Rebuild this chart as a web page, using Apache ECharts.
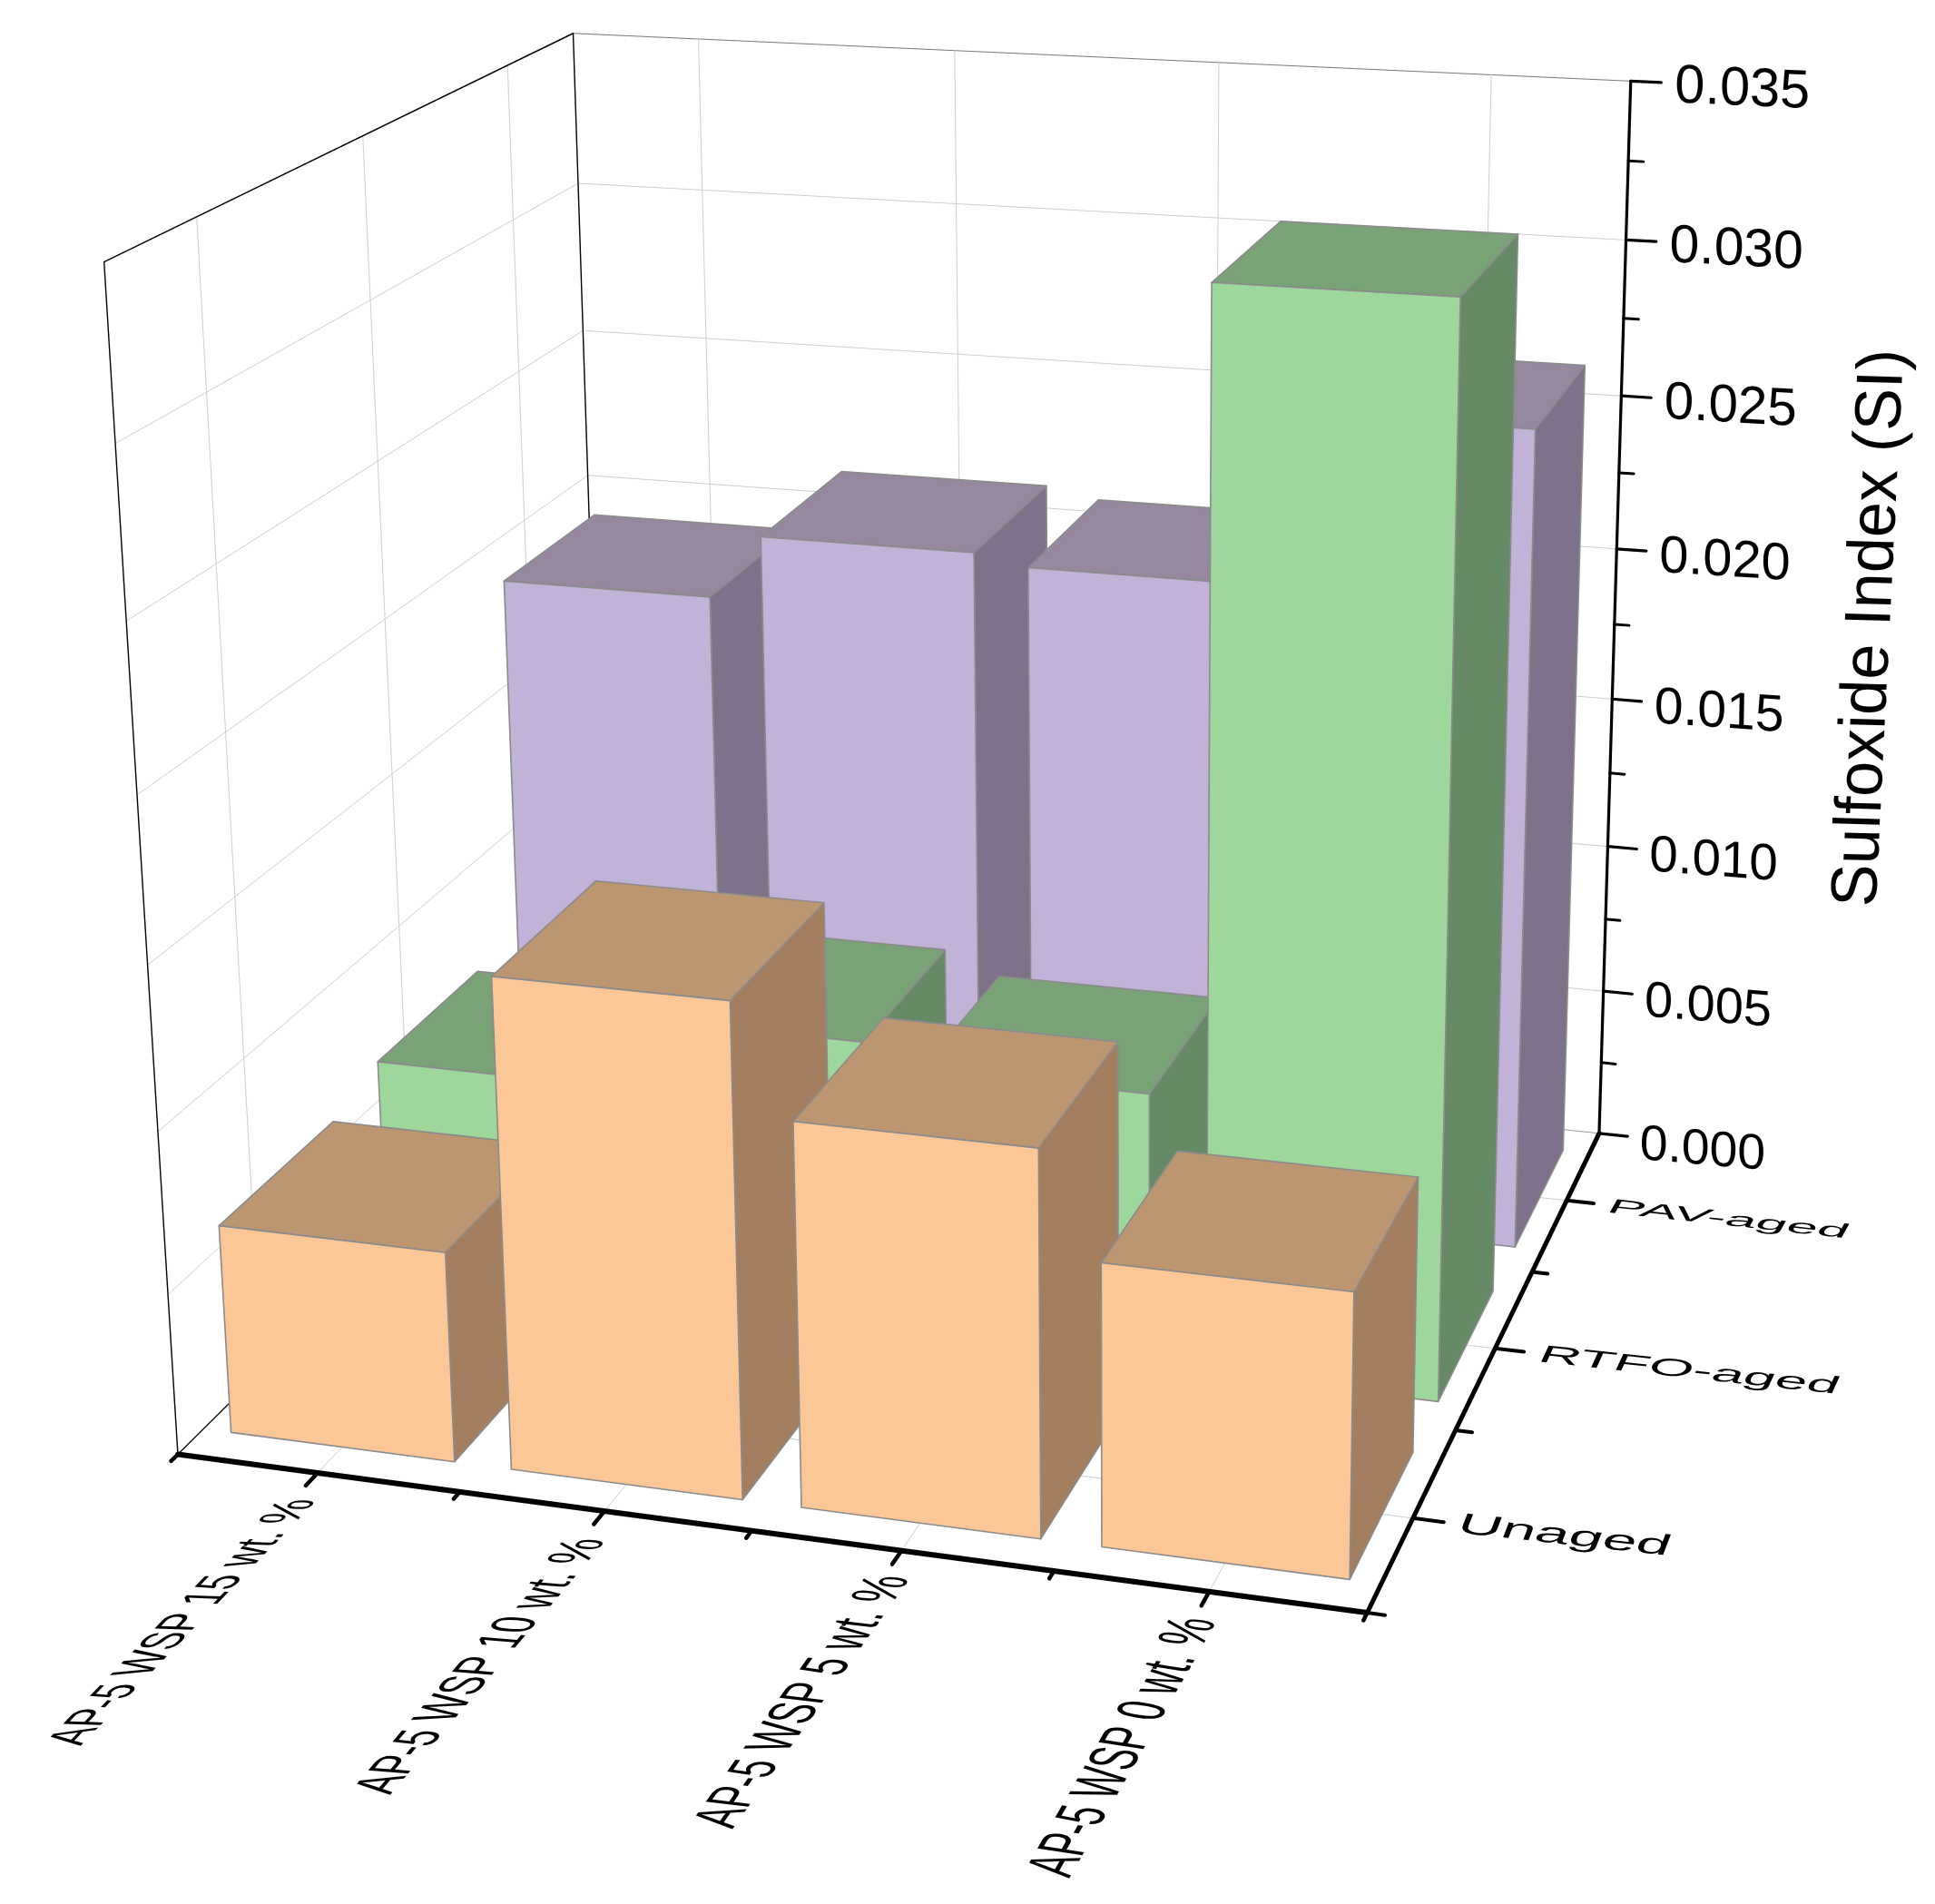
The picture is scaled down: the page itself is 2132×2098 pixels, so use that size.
<!DOCTYPE html>
<html><head><meta charset="utf-8"><style>html,body{margin:0;padding:0;background:#fff}#c{width:2132px;height:2098px}</style>
<script src="https://cdn.jsdelivr.net/npm/echarts@6/dist/echarts.min.js"></script></head><body><div id="c"></div><script>
// ---------- data ----------
const categories=['AP-5 WSP 15 wt. %','AP-5 WSP 10 wt. %','AP-5 WSP 5 wt. %','AP-5 WSP 0 wt. %'];
const ageLevels=['Unaged','RTFO-aged','PAV-aged'];
const unaged=[0.0065,0.0150,0.01165,0.0085];
const rtfoAged=[0.0071,0.0094,0.0087,0.0330];
const pavAged=[0.01915,0.02125,0.0209,0.02635];
const zMajorTicks=[0,0.005,0.010,0.015,0.020,0.025,0.030,0.035];
const zMinorTicks=[0.0025,0.0075,0.0125,0.0175,0.0225,0.0275,0.0325];
const zTitle='Sulfoxide Index (SI)';
const zMax=0.035;

// ---------- camera: corners of the unit box seen on the page ----------
const boxCorners=[[0,0,0],[1,0,0],[1,1,0],[0,1,0],[0,0,1],[0,1,1],[1,1,1]];
const pageCorners=[[196,1604],[1506,1776],[1762,1250],[668,1133],[115,288],[631,37.5],[1797,89]];
function fitCamera(){
  const A=[],B=[];
  boxCorners.forEach((w,i)=>{const [X,Y,Z]=w,u=pageCorners[i][0]/1000,v=pageCorners[i][1]/1000;
    A.push([X,Y,Z,1,0,0,0,0,-u*X,-u*Y,-u*Z]);B.push(u);
    A.push([0,0,0,0,X,Y,Z,1,-v*X,-v*Y,-v*Z]);B.push(v);});
  const n=11,N=[],R=[];
  for(let i=0;i<n;i++){N.push(new Array(n).fill(0));R.push(0);
    for(let r=0;r<A.length;r++){R[i]+=A[r][i]*B[r];for(let j=0;j<n;j++)N[i][j]+=A[r][i]*A[r][j];}}
  for(let i=0;i<n;i++){let p=i;for(let r=i;r<n;r++)if(Math.abs(N[r][i])>Math.abs(N[p][i]))p=r;
    [N[i],N[p]]=[N[p],N[i]];[R[i],R[p]]=[R[p],R[i]];
    for(let r=0;r<n;r++)if(r!==i){const f=N[r][i]/N[i][i];for(let c=i;c<n;c++)N[r][c]-=f*N[i][c];R[r]-=f*R[i];}}
  return R.map((x,i)=>x/N[i][i]);
}
const cam=fitCamera();
function P(x,y,z){const w=cam[8]*x+cam[9]*y+cam[10]*z+1;
  return[1000*(cam[0]*x+cam[1]*y+cam[2]*z+cam[3])/w,1000*(cam[4]*x+cam[5]*y+cam[6]*z+cam[7])/w];}

// ---------- helpers ----------
const S=1000;                      // hidden grid side: axes map data to 0..1 through api.coord
const barW=0.8, barD=0.7;
const gridCol='#cfcfcf';
function line(a,b,stroke,lw){return{type:'line',shape:{x1:a[0],y1:a[1],x2:b[0],y2:b[1]},style:{stroke,lineWidth:lw,lineCap:'round'}};}
function poly(pts,fill){return{type:'polygon',shape:{points:pts},style:{fill,stroke:'#8b8b8b',lineWidth:1.6,lineJoin:'round'}};}
const F=40;
// text whose local em axes are mapped to page vectors u (along the baseline) and v (glyph up)
function warpText(text,pos,u,v,align){
  const a=u[0]/F,b=-v[0]/F,c=u[1]/F,d=-v[1]/F;
  const E=(a+d)/2,Fm=(a-d)/2,G=(c+b)/2,H=(c-b)/2,Q=Math.hypot(E,H),R=Math.hypot(Fm,G);
  const a1=Math.atan2(G,Fm),a2=Math.atan2(H,E),theta=(a2-a1)/2,phi=(a2+a1)/2;
  return{type:'group',x:pos[0],y:pos[1],rotation:-phi,scaleX:Q+R,scaleY:Q-R,children:[
    {type:'text',rotation:-theta,style:{text,x:0,y:0,fill:'#000',font:F+'px "Liberation Sans"',align,verticalAlign:'middle'}}]};
}
const lerp=(a,b,t)=>a+(b-a)*t;
const zOf=(api,v)=>1-api.coord([0,v])[1]/S;
const xOf=(api,i)=>api.coord([i,0])[0]/S;
const yOf=j=>(j+0.5)/ageLevels.length;

function renderWalls(params,api){
  const ch=[],zs=zMajorTicks.map(v=>zOf(api,v));
  zs.slice(1,-1).forEach(z=>{ch.push(line(P(0,1,z),P(1,1,z),gridCol,1));ch.push(line(P(0,0,z),P(0,1,z),gridCol,1));});
  ch.push(line(P(0,1,1),P(1,1,1),'#777',1));
  categories.forEach((c,i)=>{const x=xOf(api,i);ch.push(line(P(x,1,0),P(x,1,1),gridCol,1));ch.push(line(P(x,0,0),P(x,1,0),gridCol,1));});
  ageLevels.forEach((c,j)=>{const y=yOf(j);ch.push(line(P(0,y,0),P(0,y,1),gridCol,1));ch.push(line(P(0,y,0),P(1,y,0),gridCol,1));});
  ch.push(line(P(0,1,0),P(1,1,0),'#999',1));
  ch.push(line(P(0,0,0),P(0,1,0),'#000',1.2));
  ch.push(line(P(0,0,0),P(0,0,1),'#000',1.4));
  ch.push(line(P(0,0,1),P(0,1,1),'#000',1.4));
  ch.push(line(P(0,1,0),P(0,1,1),'#000',1.4));
  return{type:'group',children:ch};
}
function renderBars(row,front,top,side){
  return function(params,api){
    const xc=api.coord([api.value(0),0])[0]/S,hw=api.size([1,0])[0]/S*barW/2;
    const z=zOf(api,api.value(1)),yc=yOf(row),hd=barD/ageLevels.length/2;
    const x0=xc-hw,x1=xc+hw,y0=yc-hd,y1=yc+hd;
    return{type:'group',children:[
      poly([P(x1,y0,0),P(x1,y1,0),P(x1,y1,z),P(x1,y0,z)],side),
      poly([P(x0,y0,z),P(x1,y0,z),P(x1,y1,z),P(x0,y1,z)],top),
      poly([P(x0,y0,0),P(x1,y0,0),P(x1,y0,z),P(x0,y0,z)],front)]};
  };
}
function renderAxes(params,api){
  const ch=[];
  // value axis
  ch.push(line(P(1,1,0),P(1,1,1),'#000',3.2));
  zMinorTicks.forEach(v=>{const z=zOf(api,v);ch.push(line(P(1,1,z),P(1.0135,1,z),'#000',3));});
  zMajorTicks.forEach(v=>{const z=zOf(api,v),t=P(1,1,z),q=v/zMax;
    ch.push(line(t,P(1.027,1,z),'#000',3.2));
    const ang=lerp(5,2.6,q)*Math.PI/180,ul=lerp(55.5,59.5,q),vl=lerp(55,60,q);
    ch.push(warpText(v.toFixed(3),[t[0]+lerp(114,123,q),t[1]+lerp(19,10,q)],[ul*Math.cos(ang),ul*Math.sin(ang)],[1,-vl],'center'));});
  ch.push(warpText(zTitle,[2062,692],[3.5,-70.4],[-72,-2],'center'));
  // category axis
  ch.push(line(P(0,0,0),P(1,0,0),'#000',6));
  [0,0.25,0.5,0.75,1].forEach(x=>ch.push(line(P(x,0,0),P(x,-0.013,0),'#000',4.5)));
  const xOff=[[-4,15],[-4,16],[1,13],[-3,14]];
  const xU=[[29.3,-30.5],[26.8,-31.6],[23.5,-33.2],[19.5,-34]];
  const xUp=[[-60,-2],[-64,-5],[-68,-8],[-72,-11]];
  categories.forEach((c,i)=>{const x=xOf(api,i),e=P(x,-0.024,0);
    ch.push(line(P(x,0,0),e,'#000',4.5));
    ch.push(warpText(c,[e[0]+xOff[i][0],e[1]+xOff[i][1]],xU[i],xUp[i],'right'));});
  // depth axis
  ch.push(line(P(1,0,0),P(1,1,0),'#000',5));
  [0,1/3,2/3].forEach(y=>ch.push(line(P(1,y,0),P(1.014,y,0),'#000',4)));
  const depthU=[67,63,61],depthUp=[31,26,21],depthX=[50,49,46],ang=6.2*Math.PI/180;
  ageLevels.forEach((c,j)=>{const y=yOf(j),t=P(1,y,0);
    ch.push(line(t,P(1.025,y,0),'#000',4));
    ch.push(warpText(c,[t[0]+depthX[j],t[1]+7],[depthU[j]*Math.cos(ang),depthU[j]*Math.sin(ang)],[12,-depthUp[j]],'left'));});
  return{type:'group',children:ch};
}
const barSeries=(values,row,z,cols)=>({type:'custom',coordinateSystem:'cartesian2d',z,silent:true,
  renderItem:renderBars(row,...cols),data:values.map((v,i)=>[i,v])});

const chart=echarts.init(document.getElementById('c'));
chart.setOption({
  animation:false,backgroundColor:'#fff',
  grid:{left:0,top:0,width:S,height:S,show:false},
  xAxis:{type:'category',data:categories,show:false},
  yAxis:{type:'value',min:0,max:zMax,interval:0.005,show:false},
  series:[
    {type:'custom',coordinateSystem:'cartesian2d',z:1,silent:true,renderItem:renderWalls,data:[[0,0]]},
    barSeries(pavAged,2,2,['#C1B2D7','#95889F','#7D7289']),
    barSeries(rtfoAged,1,3,['#9ED79C','#79A277','#658A65']),
    barSeries(unaged,0,4,['#FBC797','#BC9670','#A37F60']),
    {type:'custom',coordinateSystem:'cartesian2d',z:5,silent:true,renderItem:renderAxes,data:[[0,0]]}
  ]
});
</script></body></html>
